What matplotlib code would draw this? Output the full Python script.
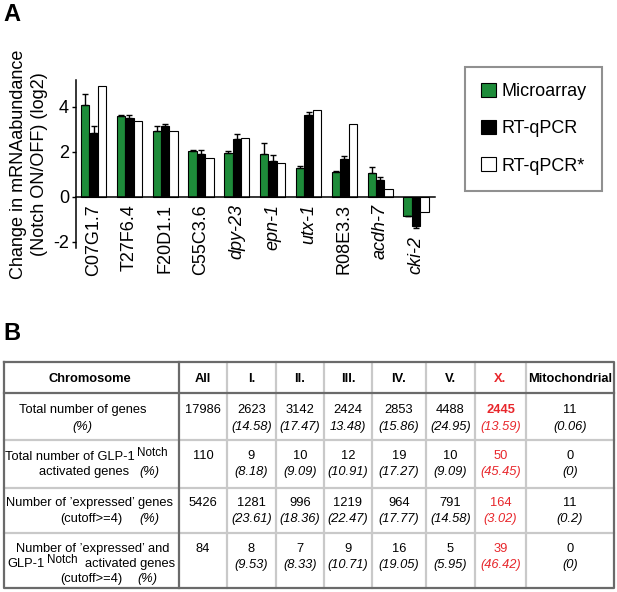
import matplotlib
matplotlib.use("Agg")
import matplotlib.pyplot as plt
from matplotlib.patches import Patch
import numpy as np

plt.rcParams['font.family'] = ['Liberation Sans', 'DejaVu Sans']
plt.rcParams['axes.unicode_minus'] = False

# panel A data
genes = ['C07G1.7', 'T27F6.4', 'F20D1.1', 'C55C3.6', 'dpy-23', 'epn-1',
         'utx-1', 'R08E3.3', 'acdh-7', 'cki-2']
italic_genes = ['dpy-23', 'epn-1', 'utx-1', 'acdh-7', 'cki-2']
microarray = [4.10, 3.60, 2.92, 2.03, 1.95, 1.91, 1.29, 1.10, 1.05, -0.85]
microarray_err = [0.48, 0.03, 0.22, 0.06, 0.08, 0.49, 0.07, 0.06, 0.28, 0.0]
rtqpcr = [2.85, 3.51, 3.14, 1.93, 2.59, 1.61, 3.63, 1.70, 0.77, -1.30]
rtqpcr_err = [0.29, 0.15, 0.12, 0.17, 0.23, 0.24, 0.13, 0.11, 0.13, 0.08]
rtqpcr_star = [4.95, 3.38, 2.92, 1.75, 2.64, 1.53, 3.85, 3.26, 0.36, -0.68]

# panel B data
col_headers = ['All', 'I.', 'II.', 'III.', 'IV.', 'V.', 'X.', 'Mitochondrial']
total_genes = ['17986', '2623', '3142', '2424', '2853', '4488', '2445', '11']
total_genes_pct = ['', '(14.58)', '(17.47)', '13.48)', '(15.86)', '(24.95)', '(13.59)', '(0.06)']
glp1_genes = ['110', '9', '10', '12', '19', '10', '50', '0']
glp1_genes_pct = ['', '(8.18)', '(9.09)', '(10.91)', '(17.27)', '(9.09)', '(45.45)', '(0)']
expressed_genes = ['5426', '1281', '996', '1219', '964', '791', '164', '11']
expressed_genes_pct = ['', '(23.61)', '(18.36)', '(22.47)', '(17.77)', '(14.58)', '(3.02)', '(0.2)']
expr_glp1_genes = ['84', '8', '7', '9', '16', '5', '39', '0']
expr_glp1_genes_pct = ['', '(9.53)', '(8.33)', '(10.71)', '(19.05)', '(5.95)', '(46.42)', '(0)']

GREEN = '#1e8c3a'
RED = '#e8262b'

fig = plt.figure(figsize=(6.17, 5.92), dpi=100)

# ---------- panel A ----------
ax = fig.add_axes([76 / 617, 1 - 248 / 592, 359 / 617, 168 / 592])
x = np.arange(len(genes))
w = 0.235


def yerr_for(vals, errs):
    lower = [e if v < 0 else 0 for v, e in zip(vals, errs)]
    upper = [e if v >= 0 else 0 for v, e in zip(vals, errs)]
    return [lower, upper]


ekw = dict(ecolor='black', elinewidth=1.0, capsize=2.5, capthick=1.0)
ax.bar(x - w, microarray, w, color=GREEN, edgecolor='black', linewidth=0.8,
       yerr=yerr_for(microarray, microarray_err), error_kw=ekw)
ax.bar(x, rtqpcr, w, color='black', edgecolor='black', linewidth=0.8,
       yerr=yerr_for(rtqpcr, rtqpcr_err), error_kw=ekw)
ax.bar(x + w, rtqpcr_star, w, color='white', edgecolor='black', linewidth=0.8)

ax.set_xlim(-0.49, 9.53)
ax.set_ylim(-2.27, 5.2)
ax.spines['top'].set_visible(False)
ax.spines['right'].set_visible(False)
ax.spines['bottom'].set_position(('data', 0))
ax.spines['left'].set_linewidth(1.1)
ax.spines['bottom'].set_linewidth(1.1)
ax.set_yticks([-2, 0, 2, 4])
ax.tick_params(axis='y', length=3, width=1.0, labelsize=13, pad=2)
ax.set_xticks(x)
ax.set_xticklabels(genes[:-1] + [''], rotation=90, fontsize=13)
ax.tick_params(axis='x', length=0, pad=5)
for lbl in ax.get_xticklabels():
    if lbl.get_text() in italic_genes:
        lbl.set_style('italic')
# last label sits below its negative bars
ax.text(x[-1], -1.75, genes[-1], rotation=90, fontsize=13, style='italic',
        ha='center', va='top')
ax.set_ylabel('Change in mRNAabundance\n(Notch ON/OFF) (log2)', fontsize=13,
              linespacing=1.3, labelpad=4)

handles = [Patch(facecolor=GREEN, edgecolor='black', linewidth=0.8),
           Patch(facecolor='black', edgecolor='black', linewidth=0.8),
           Patch(facecolor='white', edgecolor='black', linewidth=0.8)]
leg = fig.legend(handles, ['Microarray', 'RT-qPCR', 'RT-qPCR*'],
                 loc='upper left', bbox_to_anchor=(465 / 617, 1 - 67 / 592),
                 borderaxespad=0, fontsize=13, handlelength=0.8, handleheight=0.8,
                 handletextpad=0.3, labelspacing=1.1, borderpad=0.9,
                 fancybox=False, framealpha=1)
leg.get_frame().set_edgecolor('#909090')
leg.get_frame().set_linewidth(1.5)

fig.text(3 / 617, 1 - 3 / 592, 'A', fontsize=17, fontweight='bold', va='top', ha='left')
fig.text(3 / 617, 1 - 322 / 592, 'B', fontsize=17, fontweight='bold', va='top', ha='left')

# ---------- panel B (table, pixel coordinates) ----------
tb = fig.add_axes([0, 0, 1, 1])
tb.set_xlim(0, 617)
tb.set_ylim(592, 0)
tb.axis('off')
tb.patch.set_alpha(0)

col_edges = [3.5, 179, 227, 276, 324, 372, 426, 475, 526, 613.5]
row_edges = [362, 393, 440, 488, 533, 588]
DARK = '#6a6a6a'
LIGHT = '#c9c9c9'

for xe in col_edges[2:-1]:
    tb.plot([xe, xe], [row_edges[0], row_edges[-1]], color=LIGHT, lw=1.6)
for ye in row_edges[2:-1]:
    tb.plot([col_edges[0], col_edges[-1]], [ye, ye], color=LIGHT, lw=1.6)
tb.plot([col_edges[1], col_edges[1]], [row_edges[0], row_edges[-1]], color=DARK, lw=1.6)
tb.plot([col_edges[0], col_edges[-1]], [row_edges[1], row_edges[1]], color=DARK, lw=1.6)
tb.plot([col_edges[0], col_edges[-1], col_edges[-1], col_edges[0], col_edges[0]],
        [row_edges[0], row_edges[0], row_edges[-1], row_edges[-1], row_edges[0]],
        color=DARK, lw=1.6)

FS = 9.3
SUP = 8.4
tb.text(90, 379, 'Chromosome', fontsize=FS, fontweight='bold', ha='center', va='center')
centers = [(col_edges[i] + col_edges[i + 1]) / 2 for i in range(1, len(col_edges) - 1)]
for cx, h in zip(centers, col_headers):
    tb.text(cx, 379, h, fontsize=FS, fontweight='bold', ha='center', va='center',
            color=RED if h == 'X.' else 'black')

# row labels
tb.text(83, 410, 'Total number of genes', fontsize=FS, ha='center', va='center')
tb.text(82, 427, '(%)', fontsize=FS, style='italic', ha='center', va='center')

tb.text(135, 457, 'Total number of GLP-1', fontsize=FS, ha='right', va='center')
tb.text(137, 452.5, 'Notch', fontsize=SUP, ha='left', va='center')
tb.text(39, 472, 'activated genes', fontsize=FS, ha='left', va='center')
tb.text(139, 472, '(%)', fontsize=FS, style='italic', ha='left', va='center')

tb.text(90, 503, 'Number of \u2019expressed\u2019 genes', fontsize=FS, ha='center', va='center')
tb.text(60, 519, '(cutoff>=4)', fontsize=FS, ha='left', va='center')
tb.text(139, 519, '(%)', fontsize=FS, style='italic', ha='left', va='center')

tb.text(93, 549, 'Number of \u2019expressed\u2019 and', fontsize=FS, ha='center', va='center')
tb.text(7, 564, 'GLP-1', fontsize=FS, ha='left', va='center')
tb.text(47, 560, 'Notch', fontsize=SUP, ha='left', va='center')
tb.text(175, 564, 'activated genes', fontsize=FS, ha='right', va='center')
tb.text(60, 579, '(cutoff>=4)', fontsize=FS, ha='left', va='center')
tb.text(137, 579, '(%)', fontsize=FS, style='italic', ha='left', va='center')

rows = [(total_genes, total_genes_pct, 410, 427),
        (glp1_genes, glp1_genes_pct, 456, 472),
        (expressed_genes, expressed_genes_pct, 503, 519),
        (expr_glp1_genes, expr_glp1_genes_pct, 549, 565)]
for r, (nums, pcts, y1, y2) in enumerate(rows):
    for i, (cx, n, p) in enumerate(zip(centers, nums, pcts)):
        red = col_headers[i] == 'X.'
        color = RED if red else 'black'
        weight = 'bold' if (red and r == 0) else 'normal'
        tb.text(cx, y1, n, fontsize=FS, ha='center', va='center', color=color,
                fontweight=weight)
        if p:
            tb.text(cx, y2, p, fontsize=FS, style='italic', ha='center', va='center',
                    color=color)

fig.savefig('out.png', dpi=100)
